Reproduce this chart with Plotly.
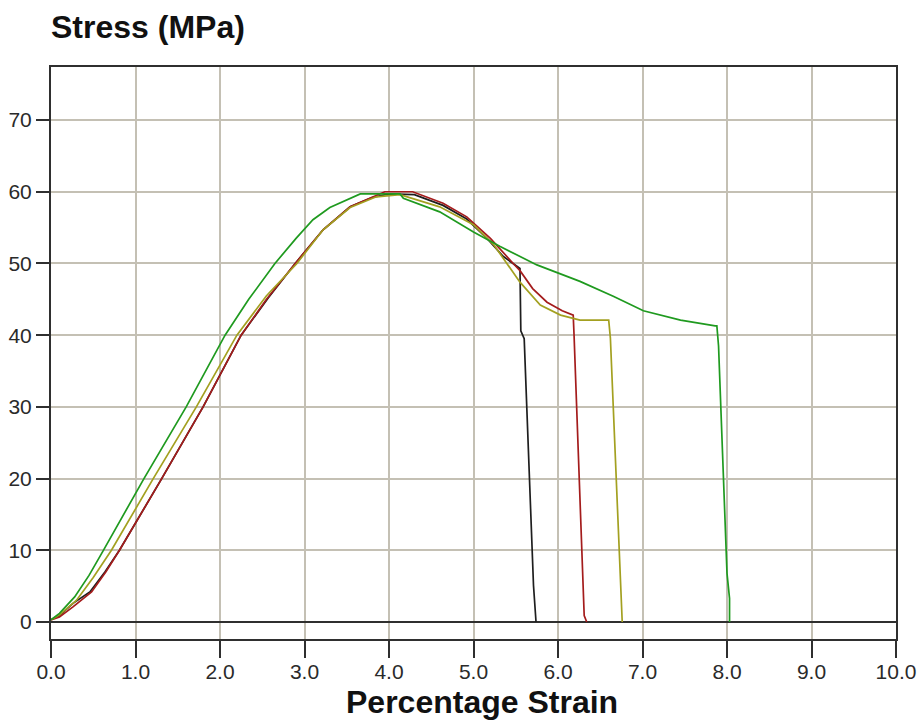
import plotly.graph_objects as go

# Tensile test curves: strain (%) vs stress (MPa), one series per specimen
black_strain = [0.00, 0.10, 0.26, 0.46, 0.64, 0.81, 1.31, 1.80, 2.25, 2.57, 2.89, 3.22, 3.54, 3.80,
                4.00, 4.30, 4.64, 4.92, 5.16, 5.35, 5.55, 5.56, 5.60, 5.70, 5.71, 5.74]
black_stress = [0.3, 0.9, 2.6, 4.2, 7.0, 10.0, 20.0, 30.0, 40.0, 45.2, 50.0, 54.7, 57.9, 59.2,
                59.7, 59.6, 58.1, 56.2, 53.5, 51.0, 49.3, 40.6, 39.5, 8.6, 5.1, 0.0]

red_strain = [0.00, 0.10, 0.26, 0.48, 0.65, 0.81, 1.31, 1.80, 2.25, 2.55, 2.89, 3.22, 3.54, 3.80,
              3.95, 4.28, 4.64, 4.92, 5.20, 5.47, 5.55, 5.70, 5.87, 6.05, 6.18, 6.19, 6.28, 6.29,
              6.31, 6.34]
red_stress = [0.3, 0.7, 2.1, 4.2, 7.0, 10.0, 20.0, 30.0, 40.0, 45.0, 50.0, 54.7, 57.9, 59.3,
              60.0, 60.0, 58.4, 56.5, 53.5, 50.0, 49.0, 46.5, 44.6, 43.4, 42.8, 40.0, 11.0, 6.1,
              0.9, 0.0]

olive_strain = [0.00, 0.10, 0.30, 0.50, 0.715, 1.21, 1.72, 2.20, 2.55, 2.91, 3.22, 3.54, 3.85,
                4.13, 4.60, 5.00, 5.24, 5.40, 5.55, 5.79, 6.03, 6.26, 6.60, 6.62, 6.73, 6.74, 6.76]
olive_stress = [0.3, 1.0, 3.0, 6.2, 10.0, 20.0, 30.0, 40.0, 45.5, 50.0, 54.7, 57.8, 59.3,
                59.6, 57.9, 55.4, 52.6, 50.0, 47.4, 44.2, 42.8, 42.1, 42.1, 39.6, 8.0, 4.0, 0.0]

green_strain = [0.00, 0.10, 0.28, 0.45, 0.62, 1.10, 1.60, 2.06, 2.34, 2.65, 2.90, 3.10, 3.30,
                3.50, 3.66, 4.13, 4.17, 4.60, 5.00, 5.31, 5.75, 6.26, 6.66, 7.01, 7.45, 7.86,
                7.88, 7.90, 7.99, 8.00, 8.03, 8.03]
green_stress = [0.3, 1.2, 3.5, 6.5, 10.0, 20.0, 30.0, 40.0, 45.0, 50.0, 53.5, 56.1, 57.8,
                58.9, 59.7, 59.7, 59.1, 57.2, 54.4, 52.4, 49.8, 47.5, 45.4, 43.4, 42.1, 41.3,
                41.3, 38.5, 10.0, 6.8, 3.3, 0.0]

x_ticks = [0, 1, 2, 3, 4, 5, 6, 7, 8, 9, 10]
y_ticks = [0, 10, 20, 30, 40, 50, 60, 70]

series = [
    (black_strain, black_stress, "#1e1e1e"),
    (red_strain, red_stress, "#a41c1c"),
    (olive_strain, olive_stress, "#a3a020"),
    (green_strain, green_stress, "#1f9a1f"),
]

fig = go.Figure()
for xs, ys, col in series:
    fig.add_trace(go.Scatter(x=xs, y=ys, mode="lines",
                             line=dict(color=col, width=1.7), showlegend=False,
                             hoverinfo="skip"))

sans = "Liberation Sans, Arial, sans-serif"
tick_font = dict(family=sans, size=21, color="#2a2a2a")
grid_col = "#c4c0b4"
frame_col = "#2f2f2f"

fig.update_layout(
    width=923, height=723,
    margin=dict(l=51, r=27, t=67, b=84),
    paper_bgcolor="white", plot_bgcolor="white",
    xaxis=dict(range=[0, 10], tickvals=x_ticks, tickformat=".1f", automargin=False,
               showgrid=True, gridcolor=grid_col, gridwidth=2,
               showline=True, linecolor=frame_col, linewidth=2, mirror=True,
               ticks="outside", ticklen=17, tickwidth=2, tickcolor=frame_col,
               ticklabelstandoff=-4,
               tickfont=tick_font, zeroline=False),
    yaxis=dict(range=[-2.37, 77.4], tickvals=y_ticks, automargin=False,
               showgrid=True, gridcolor=grid_col, gridwidth=2,
               showline=True, linecolor=frame_col, linewidth=2, mirror=True,
               ticks="outside", ticklen=13, tickwidth=2, tickcolor=frame_col,
               tickfont=tick_font, zeroline=True, zerolinecolor=frame_col,
               zerolinewidth=2),
    annotations=[
        dict(text="<b>Stress (MPa)</b>", xref="paper", yref="paper",
             x=0, y=1, xanchor="left", yanchor="bottom", yshift=20, xshift=-2,
             showarrow=False, font=dict(family=sans, size=32, color="#111")),
        dict(text="<b>Percentage Strain</b>", xref="paper", yref="paper",
             x=0.5, y=0, xanchor="center", yanchor="middle", yshift=-63, xshift=8,
             showarrow=False, font=dict(family=sans, size=32, color="#111")),
    ],
)

fig.write_html("out.html")
